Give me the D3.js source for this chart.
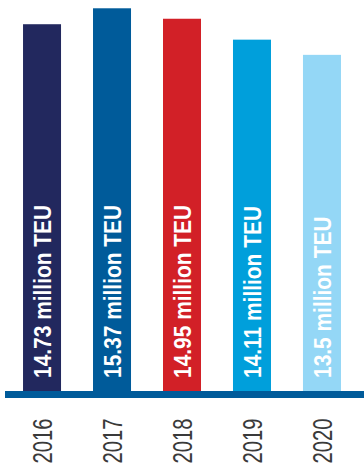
<!DOCTYPE html>
<html>
<head>
<meta charset="utf-8">
<script src="https://cdn.jsdelivr.net/npm/d3@7"></script>
<style>
  html, body { margin: 0; padding: 0; background: #fff; }
  svg { display: block; }
</style>
</head>
<body>
<svg id="chart" width="364" height="471"></svg>
<script>
const years = ["2016", "2017", "2018", "2019", "2020"];
const values = [14.73, 15.37, 14.95, 14.11, 13.5];
const labels = ["14.73 million TEU", "15.37 million TEU", "14.95 million TEU", "14.11 million TEU", "13.5 million TEU"];
const colors = ["#22285e", "#005b9a", "#d22027", "#009fdb", "#94d7f6"];

const svg = d3.select("#chart");
const baseY = 391;

const x = d3.scaleBand().domain(years).range([7, 357]).paddingInner(0.457).paddingOuter(0.229);
const y = d3.scaleLinear().domain([0, 16]).range([baseY, baseY - 16 * 24.9]);

const data = years.map((yr, i) => ({ year: yr, value: values[i], label: labels[i], color: colors[i] }));

svg.selectAll("rect.bar").data(data).join("rect")
  .attr("class", "bar")
  .attr("x", d => x(d.year))
  .attr("width", x.bandwidth())
  .attr("y", d => y(d.value))
  .attr("height", d => y(0) - y(d.value))
  .attr("fill", d => d.color);

svg.selectAll("text.val").data(data).join("text")
  .attr("class", "val")
  .attr("transform", d => `translate(${x(d.year) + x.bandwidth() / 2 + 1},${baseY - 13}) rotate(-90) scale(0.91,1)`)
  .attr("text-anchor", "start")
  .attr("dominant-baseline", "central")
  .attr("fill", "#fff")
  .attr("font-family", "'Liberation Sans', Arial, sans-serif")
  .attr("font-weight", "bold")
  .attr("font-size", 23)
  .text(d => d.label);

// axis line
const axis = d3.axisBottom(x).tickSize(0).tickFormat("");
const axisG = svg.append("g").attr("transform", `translate(0,${baseY + 3.5})`).call(axis);
axisG.select(".domain").attr("d", "M5,0H364").attr("stroke", "#005b9a").attr("stroke-width", 7);

svg.selectAll("text.year").data(data).join("text")
  .attr("class", "year")
  .attr("transform", d => `translate(${x(d.year) + x.bandwidth() / 2},441) rotate(-90) scale(0.75,1)`)
  .attr("text-anchor", "middle")
  .attr("dominant-baseline", "central")
  .attr("fill", "#3a3a3a")
  .attr("font-family", "'Liberation Sans', Arial, sans-serif")
  .attr("font-size", 27)
  .text(d => d.year);
</script>
</body>
</html>
